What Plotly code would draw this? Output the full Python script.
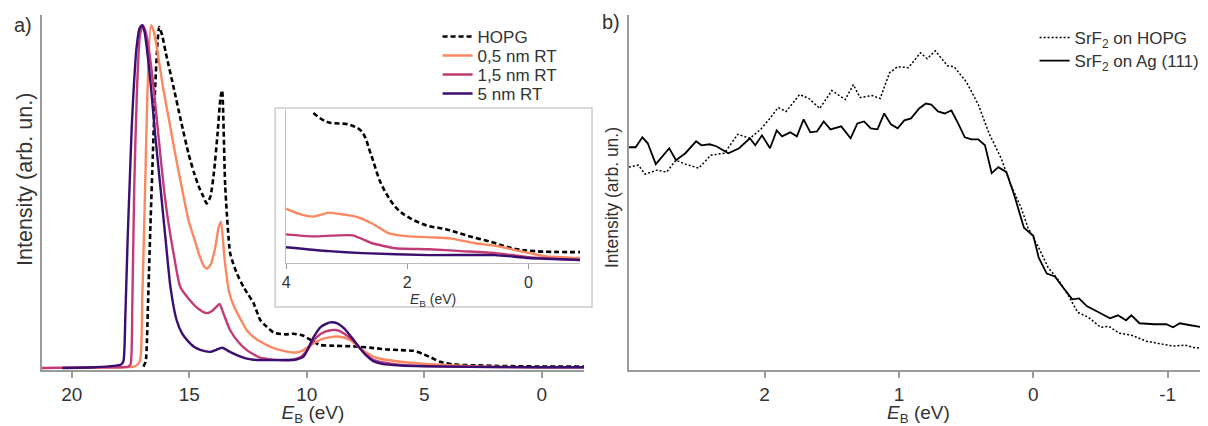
import plotly.graph_objects as go

# ---------------- panel a data ----------------
e_hopg = [16.95, 16.85, 16.75, 16.65, 16.55, 16.45, 16.35, 16.28, 16.15, 16.0, 15.67, 15.35, 15.03, 14.8, 14.6, 14.4,
          14.26, 14.1, 13.95, 13.8, 13.67, 13.6, 13.47, 13.26, 13.0, 12.69, 12.5, 12.27, 11.98, 11.7, 11.4, 10.9, 10.56,
          10.14, 9.8, 9.43, 9.0, 8.0, 7.0, 6.6, 6.0, 5.47, 5.1, 4.7, 4.33, 3.77, 3.0, 2.0, 1.0, 0.0, -1.8]
i_hopg = [0.004, 0.02, 0.2, 0.42, 0.62, 0.82, 0.95, 0.995, 0.97, 0.92, 0.82, 0.72, 0.625, 0.57, 0.53, 0.5,
          0.48, 0.5, 0.57, 0.68, 0.79, 0.81, 0.53, 0.335, 0.28, 0.236, 0.215, 0.19, 0.14, 0.12, 0.103, 0.098, 0.1,
          0.094, 0.08, 0.067, 0.065, 0.063, 0.057, 0.054, 0.052, 0.05, 0.042, 0.03, 0.018, 0.01, 0.008, 0.006, 0.005, 0.004, 0.004]

e_05 = [19.5, 17.3, 17.1, 17.0, 16.93, 16.87, 16.78, 16.63, 16.5, 16.3, 16.12, 15.85, 15.6, 15.3, 15.03, 14.8, 14.6,
        14.4, 14.26, 14.1, 13.9, 13.75, 13.65, 13.5, 13.3, 13.1, 12.8, 12.55, 12.3, 11.98, 11.5, 11.0, 10.5, 10.2, 9.8,
        9.4, 9.0, 8.58, 8.2, 7.9, 7.73, 7.45, 7.17, 6.8, 6.0, 5.0, 4.0, 3.0, 2.0, 0.0, -1.8]
i_05 = [0.002, 0.005, 0.02, 0.2, 0.38, 0.55, 0.8, 1.0, 0.98, 0.9, 0.82, 0.72, 0.625, 0.52, 0.43, 0.38, 0.335,
        0.3, 0.29, 0.3, 0.35, 0.41, 0.427, 0.32, 0.22, 0.18, 0.14, 0.11, 0.092, 0.077, 0.06, 0.05, 0.045, 0.05, 0.068,
        0.083, 0.09, 0.091, 0.083, 0.068, 0.057, 0.044, 0.033, 0.026, 0.018, 0.012, 0.008, 0.005, 0.003, 0.002, 0.002]

e_15 = [21.27, 19.0, 17.6, 17.5, 17.42, 17.34, 17.22, 17.1, 16.98, 16.85, 16.7, 16.52, 16.3, 16.09, 15.9, 15.67, 15.38,
        15.0, 14.6, 14.26, 14.0, 13.85, 13.71, 13.55, 13.26, 12.9, 12.55, 11.98, 11.5, 10.7, 10.3, 10.0, 9.71, 9.4,
        9.0, 8.7, 8.4, 8.0, 7.73, 7.45, 7.17, 6.8, 6.0, 4.0, 0.0, -1.8]
i_15 = [0.0, 0.002, 0.004, 0.01, 0.2, 0.53, 0.82, 0.97, 1.0, 0.98, 0.92, 0.82, 0.67, 0.53, 0.43, 0.335, 0.236,
        0.2, 0.172, 0.16, 0.168, 0.178, 0.187, 0.16, 0.11, 0.075, 0.052, 0.03, 0.025, 0.023, 0.03, 0.05, 0.08, 0.1,
        0.11, 0.11, 0.1, 0.078, 0.057, 0.037, 0.024, 0.017, 0.009, 0.004, 0.002, 0.002]

e_5 = [20.4, 19.0, 18.2, 17.9, 17.8, 17.72, 17.62, 17.53, 17.45, 17.36, 17.25, 17.12, 17.01, 16.9, 16.75, 16.63, 16.45,
       16.23, 16.0, 15.8, 15.54, 15.3, 15.1, 14.8, 14.5, 14.1, 13.85, 13.6, 13.35, 13.0, 12.6, 12.27, 11.0, 10.5, 10.14,
       9.71, 9.4, 9.0, 8.7, 8.4, 8.1, 7.73, 7.45, 7.17, 6.8, 6.0, 5.0, 3.0, 0.0, -1.8]
i_5 = [0.0, 0.002, 0.006, 0.01, 0.02, 0.15, 0.38, 0.55, 0.7, 0.82, 0.93, 0.99, 1.0, 0.98, 0.9, 0.82, 0.68,
       0.53, 0.37, 0.236, 0.14, 0.1, 0.082, 0.062, 0.052, 0.047, 0.053, 0.059, 0.05, 0.038, 0.028, 0.024, 0.023, 0.024, 0.033,
       0.09, 0.12, 0.133, 0.13, 0.115, 0.09, 0.057, 0.035, 0.02, 0.012, 0.007, 0.005, 0.003, 0.002, 0.002]

# ---------------- inset data ----------------
ie_hopg = [3.55, 3.33, 2.95, 2.75, 2.6, 2.43, 2.2, 2.0, 1.68, 1.35, 1.03, 0.6, 0.27, -0.1, -0.85]
ii_hopg = [152, 143, 140, 133, 110, 80, 57, 47, 38, 34, 28, 21, 15, 12, 11]
ie_05 = [4.0, 3.8, 3.56, 3.29, 3.05, 2.85, 2.58, 2.3, 1.97, 1.6, 1.3, 0.88, 0.5, 0.22, -0.27, -0.85]
ii_05 = [55, 50, 47, 51, 49, 47, 40, 30, 27, 26, 25, 20, 17, 13, 7, 5]
ie_15 = [4.0, 3.56, 2.9, 2.58, 2.2, 1.64, 1.1, 0.55, 0.0, -0.85]
ii_15 = [29, 27, 28, 20, 15, 14, 12, 10, 6, 3]
ie_5 = [4.0, 3.29, 2.74, 1.64, 0.55, 0.0, -0.85]
ii_5 = [16, 12, 10, 8, 8, 5, 3]

# ---------------- panel b data ----------------
eb_hopg = [3.01, 2.94, 2.89, 2.8, 2.73, 2.66, 2.59, 2.49, 2.4, 2.3, 2.2, 2.11, 2.03, 1.96, 1.9, 1.84, 1.74, 1.67,
           1.59, 1.5, 1.4, 1.34, 1.29, 1.2, 1.14, 1.07, 1.01, 0.93, 0.84, 0.79, 0.73, 0.64, 0.59, 0.5, 0.41, 0.33,
           0.24, 0.17, 0.09, 0.04, -0.04, -0.11, -0.19, -0.26, -0.33, -0.41, -0.5, -0.56, -0.64, -0.73, -0.84,
           -0.96, -1.04, -1.13, -1.21, -1.3]
ib_hopg = [204, 206, 197, 201, 199, 211, 207, 203, 216, 218, 237, 233, 242, 253, 264, 260, 277, 273,
           263, 281, 272, 287, 274, 276, 273, 299, 305, 304, 319, 313, 321, 306, 305, 290, 267, 238,
           213, 187, 163, 143, 123, 103, 90, 75, 58, 53, 43, 44, 37, 35, 29,
           26, 24, 25, 22, 23]

eb_ag = [3.01, 2.96, 2.91, 2.87, 2.81, 2.77, 2.71, 2.66, 2.59, 2.51, 2.47, 2.41, 2.36, 2.27, 2.19, 2.11, 2.07, 2.02,
         1.96, 1.91, 1.87, 1.81, 1.76, 1.71, 1.66, 1.61, 1.56, 1.51, 1.43, 1.36, 1.31, 1.26, 1.21, 1.16, 1.11, 1.06,
         1.01, 0.96, 0.91, 0.85, 0.8, 0.76, 0.71, 0.66, 0.61, 0.56, 0.51, 0.46, 0.41, 0.36, 0.31, 0.26, 0.2, 0.14,
         0.07, 0.0, -0.04, -0.1, -0.16, -0.21, -0.29, -0.34, -0.4, -0.5, -0.57, -0.63, -0.69, -0.73, -0.79, -0.9,
         -0.99, -1.04, -1.09, -1.17, -1.3]
ib_ag = [224, 224, 234, 228, 207, 213, 223, 211, 218, 230, 226, 227, 225, 218, 223, 233, 226, 236,
         223, 241, 235, 239, 235, 252, 239, 240, 250, 242, 245, 233, 248, 250, 243, 242, 258, 247,
         243, 251, 253, 263, 268, 267, 260, 258, 261, 248, 234, 232, 232, 226, 198, 204, 199, 175,
         143, 135, 113, 97, 94, 85, 71, 72, 64, 57, 52, 55, 50, 55, 47, 46,
         46, 43, 47, 45, 42]

names_a = ["HOPG", "0,5 nm RT", "1,5 nm RT", "5 nm RT"]
names_b = ["SrF<sub>2</sub> on HOPG", "SrF<sub>2</sub> on Ag (111)"]
ticks_a = [20, 15, 10, 5, 0]
ticks_b = [2, 1, 0, -1]
ticks_b_text = ["2", "1", "0", "-1"]
ticks_in = [4, 2, 0]

# ---------------- figure ----------------
OFF = 8                     # page body margin of the browser
W, H = 1208 - OFF, 426 - OFF
C_05 = "#FB8861"
C_15 = "#C13B75"
C_5 = "#3B0F70"
AX = "#9a9a9a"
FONT = "Liberation Sans, Arial, sans-serif"
TXT = "#333333"


def px_x(x):            # x in screenshot pixels -> paper
    return (x - OFF) / W


def px_y(y):            # y in screenshot pixels -> paper
    return (H - (y - OFF)) / H


fig = go.Figure()

# panel a
fig.add_trace(go.Scatter(x=e_hopg, y=i_hopg, mode="lines", name=names_a[0],
                         line=dict(color="black", width=2.6, dash="5px,3px", shape="spline", smoothing=0.5),
                         xaxis="x", yaxis="y", legend="legend"))
fig.add_trace(go.Scatter(x=e_05, y=i_05, mode="lines", name=names_a[1],
                         line=dict(color=C_05, width=2.4, shape="spline", smoothing=0.6), xaxis="x", yaxis="y", legend="legend3"))
fig.add_trace(go.Scatter(x=e_15, y=i_15, mode="lines", name=names_a[2],
                         line=dict(color=C_15, width=2.4, shape="spline", smoothing=0.6), xaxis="x", yaxis="y", legend="legend4"))
fig.add_trace(go.Scatter(x=e_5, y=i_5, mode="lines", name=names_a[3],
                         line=dict(color=C_5, width=2.4, shape="spline", smoothing=0.6), xaxis="x", yaxis="y", legend="legend5"))

# inset
fig.add_trace(go.Scatter(x=ie_hopg, y=ii_hopg, mode="lines", showlegend=False,
                         line=dict(color="black", width=2.6, dash="5px,3px", shape="spline"), xaxis="x3", yaxis="y3"))
fig.add_trace(go.Scatter(x=ie_05, y=ii_05, mode="lines", showlegend=False,
                         line=dict(color=C_05, width=2.4, shape="spline", smoothing=0.5), xaxis="x3", yaxis="y3"))
fig.add_trace(go.Scatter(x=ie_15, y=ii_15, mode="lines", showlegend=False,
                         line=dict(color=C_15, width=2.4, shape="spline", smoothing=0.5), xaxis="x3", yaxis="y3"))
fig.add_trace(go.Scatter(x=ie_5, y=ii_5, mode="lines", showlegend=False,
                         line=dict(color=C_5, width=2.4, shape="spline", smoothing=0.5), xaxis="x3", yaxis="y3"))

# panel b
fig.add_trace(go.Scatter(x=eb_hopg, y=ib_hopg, mode="lines", name=names_b[0],
                         line=dict(color="black", width=1.5, dash="2px,2px"), xaxis="x2", yaxis="y2", legend="legend2"))
fig.add_trace(go.Scatter(x=eb_ag, y=ib_ag, mode="lines", name=names_b[1],
                         line=dict(color="black", width=1.8), xaxis="x2", yaxis="y2", legend="legend6"))

ydom = [px_y(370), px_y(15)]
title_eb = "<i>E</i><sub>B</sub> (eV)"


def leg(xpix, ypix, size):
    return dict(x=px_x(xpix), y=px_y(ypix), xanchor="left", yanchor="middle", bgcolor="rgba(0,0,0,0)",
                font=dict(size=size, color=TXT), itemwidth=30)


fig.update_layout(
    width=W, height=H,
    margin=dict(l=0, r=0, t=0, b=0),
    paper_bgcolor="white", plot_bgcolor="rgba(0,0,0,0)",
    font=dict(family=FONT, color=TXT, size=19),
    xaxis=dict(domain=[px_x(38), px_x(582)], range=[21.27, -1.8], anchor="y",
               tickvals=ticks_a, ticks="outside", ticklen=6, tickcolor=AX, tickwidth=1.5,
               showline=True, linecolor=AX, linewidth=1.5, showgrid=False, zeroline=False,
               tickfont=dict(size=19), title=dict(text=title_eb, font=dict(size=19), standoff=6)),
    yaxis=dict(domain=ydom, range=[-0.006, 1.03], anchor="x", showticklabels=False, ticks="",
               showline=True, linecolor=AX, linewidth=1.5, showgrid=False, zeroline=False),
    xaxis2=dict(domain=[px_x(627), 1.0], range=[3.01, -1.30], anchor="y2",
                tickvals=ticks_b, ticktext=ticks_b_text, ticks="outside", ticklen=6, tickcolor=AX, tickwidth=1.5,
                showline=True, linecolor=AX, linewidth=1.5, showgrid=False, zeroline=False,
                tickfont=dict(size=19), title=dict(text=title_eb, font=dict(size=19), standoff=6)),
    yaxis2=dict(domain=ydom, range=[0, 357], anchor="x2", showticklabels=False, ticks="",
                showline=True, linecolor=AX, linewidth=1.5, showgrid=False, zeroline=False),
    xaxis3=dict(domain=[px_x(283), px_x(578)], range=[4.0, -0.85], anchor="y3",
                tickvals=ticks_in, ticks="outside", ticklen=5, tickcolor=AX, tickwidth=1.2,
                showline=True, linecolor="#bbbbbb", linewidth=1.2, showgrid=False, zeroline=False,
                tickfont=dict(size=16), title=dict(text=title_eb, font=dict(size=14), standoff=2)),
    yaxis3=dict(domain=[px_y(263), px_y(110)], range=[0, 155], anchor="x3", showticklabels=False, ticks="",
                showline=True, linecolor="#bbbbbb", linewidth=1.2, showgrid=False, zeroline=False),
    legend=leg(435, 37, 17),
    legend3=leg(435, 56, 17),
    legend4=leg(435, 75, 17),
    legend5=leg(435, 94, 17),
    legend2=leg(1034, 38, 17),
    legend6=leg(1034, 61, 17),
    shapes=[dict(type="rect", xref="paper", yref="paper", x0=px_x(272), x1=px_x(590),
                 y0=px_y(307), y1=px_y(108), line=dict(color="#cccccc", width=1.5),
                 fillcolor="white", layer="below")],
    annotations=[
        dict(text="a)", x=px_x(8), y=px_y(25), xref="paper", yref="paper", showarrow=False,
             xanchor="left", yanchor="middle", font=dict(size=20)),
        dict(text="b)", x=px_x(598), y=px_y(22), xref="paper", yref="paper", showarrow=False,
             xanchor="left", yanchor="middle", font=dict(size=20)),
        dict(text="Intensity (arb. un.)", x=px_x(21), y=px_y(179), xref="paper", yref="paper", showarrow=False,
             textangle=-90, xanchor="center", yanchor="middle", font=dict(size=21.5)),
        dict(text="Intensity (arb. un.)", x=px_x(610), y=px_y(197), xref="paper", yref="paper", showarrow=False,
             textangle=-90, xanchor="center", yanchor="middle", font=dict(size=17.5)),
    ],
)

fig.write_html("out.html")
